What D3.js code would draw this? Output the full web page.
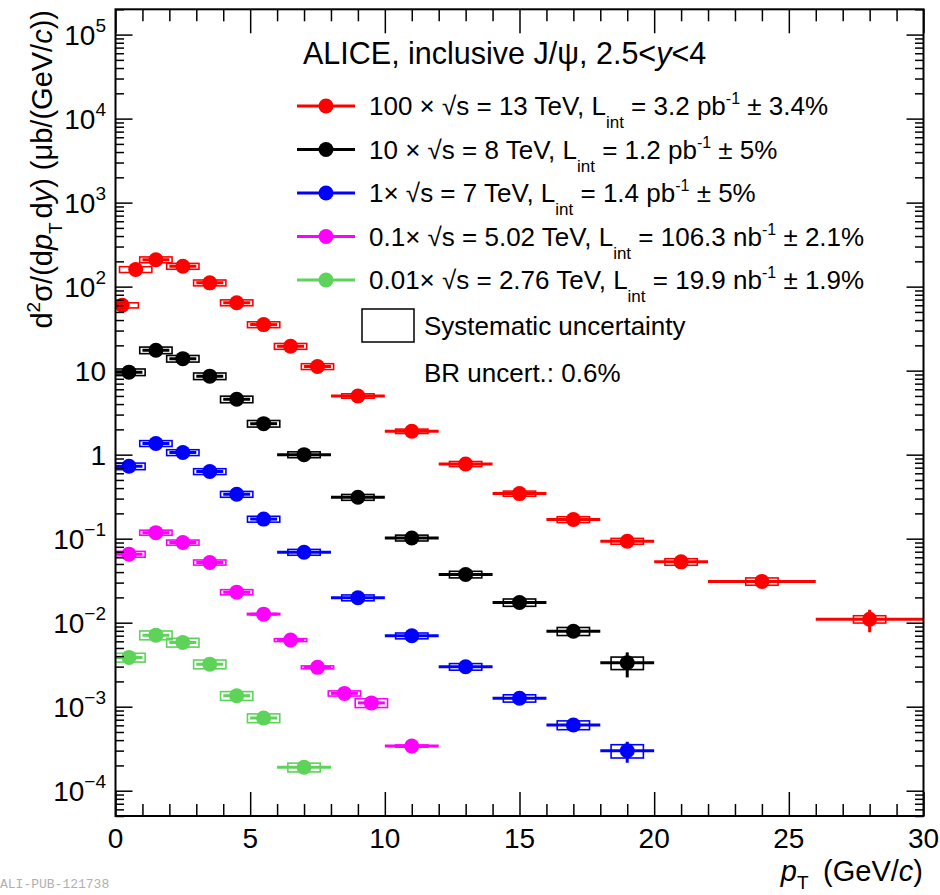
<!DOCTYPE html>
<html>
<head>
<meta charset="utf-8">
<script src="https://cdn.jsdelivr.net/npm/d3@7/dist/d3.min.js"></script>
<style>
  body { margin: 0; background: #fff; }
  svg { display: block; font-family: "Liberation Sans", Arial, Helvetica, sans-serif; }
</style>
</head>
<body>
<svg id="chart" width="940" height="895"></svg>
<script>
// Inclusive J/psi cross sections d2sigma/(dpT dy), 2.5<y<4, values as plotted (already scaled)
// pp at 13 TeV (x100)
const pt13   = [0.25, 0.75, 1.5, 2.5, 3.5, 4.5, 5.5, 6.5, 7.5, 9, 11, 13, 15, 17, 19, 21, 24, 28];
const hw13   = [0.25, 0.25, 0.5, 0.5, 0.5, 0.5, 0.5, 0.5, 0.5, 1, 1, 1, 1, 1, 1, 1, 2, 2];
const val13  = [60, 160, 209, 175, 111, 64.4, 35.3, 19.5, 11.2, 5.0, 1.90, 0.775, 0.344, 0.169, 0.0933, 0.053, 0.031, 0.011];
const stat13 = [0.03, 0.02, 0.02, 0.02, 0.02, 0.02, 0.02, 0.02, 0.03, 0.03, 0.04, 0.05, 0.06, 0.07, 0.09, 0.11, 0.12, 0.30];
const syst13 = [0.07, 0.08, 0.08, 0.08, 0.08, 0.08, 0.08, 0.08, 0.08, 0.06, 0.06, 0.07, 0.07, 0.08, 0.08, 0.09, 0.10, 0.10];

// pp at 8 TeV (x10)
const pt8    = [0.5, 1.5, 2.5, 3.5, 4.5, 5.5, 7, 9, 11, 13, 15, 17, 19];
const hw8    = [0.5, 0.5, 0.5, 0.5, 0.5, 0.5, 1, 1, 1, 1, 1, 1, 1];
const val8   = [9.6, 17.5, 13.9, 8.6, 4.56, 2.34, 1.0, 0.311, 0.102, 0.0375, 0.0174, 0.0079, 0.00333];
const stat8  = [0.03, 0.02, 0.02, 0.02, 0.03, 0.03, 0.03, 0.04, 0.06, 0.08, 0.10, 0.14, 0.33];
const syst8  = [0.09, 0.09, 0.09, 0.09, 0.09, 0.09, 0.08, 0.08, 0.08, 0.09, 0.10, 0.11, 0.17];

// pp at 7 TeV (x1)
const pt7    = [0.5, 1.5, 2.5, 3.5, 4.5, 5.5, 7, 9, 11, 13, 15, 17, 19];
const hw7    = [0.5, 0.5, 0.5, 0.5, 0.5, 0.5, 1, 1, 1, 1, 1, 1, 1];
const val7   = [0.728, 1.36, 1.06, 0.63, 0.338, 0.171, 0.069, 0.0198, 0.00698, 0.00299, 0.00126, 0.000605, 0.000299];
const stat7  = [0.03, 0.02, 0.02, 0.02, 0.03, 0.03, 0.03, 0.04, 0.06, 0.07, 0.09, 0.12, 0.28];
const syst7  = [0.09, 0.08, 0.08, 0.08, 0.08, 0.08, 0.08, 0.08, 0.08, 0.09, 0.10, 0.12, 0.18];

// pp at 5.02 TeV (x0.1)
const pt5    = [0.5, 1.5, 2.5, 3.5, 4.5, 5.5, 6.5, 7.5, 8.5, 9.5, 11];
const hw5    = [0.5, 0.5, 0.5, 0.5, 0.5, 0.5, 0.5, 0.5, 0.5, 0.5, 1];
const val5   = [0.0654, 0.118, 0.090, 0.0521, 0.0231, 0.01264, 0.00621, 0.00294, 0.00144, 0.00111, 0.00034];
const stat5  = [0.04, 0.03, 0.03, 0.04, 0.04, 0.05, 0.06, 0.07, 0.08, 0.09, 0.10];
const syst5  = [0.08, 0.07, 0.07, 0.07, 0.07, 0.02, 0.04, 0.04, 0.07, 0.12, 0.03];

// pp at 2.76 TeV (x0.01)
const pt276   = [0.5, 1.5, 2.5, 3.5, 4.5, 5.5, 7];
const hw276   = [0.5, 0.5, 0.5, 0.5, 0.5, 0.5, 1];
const val276  = [0.00386, 0.00711, 0.00582, 0.00321, 0.00135, 0.000733, 0.00019];
const stat276 = [0.05, 0.04, 0.04, 0.05, 0.06, 0.07, 0.10];
const syst276 = [0.12, 0.12, 0.12, 0.12, 0.12, 0.12, 0.12];

// Legend pieces
const scaleLabels = ["100 ×", "10 ×", "1×", "0.1×", "0.01×"];
const energies    = ["13", "8", "7", "5.02", "2.76"];
const lumiValues  = ["3.2 pb", "1.2 pb", "1.4 pb", "106.3 nb", "19.9 nb"];
const lumiUnc     = ["3.4%", "5%", "5%", "2.1%", "1.9%"];
const colors      = ["#ff0000", "#000000", "#0000ff", "#ff00ff", "#5ed35a"];

// Axis ticks
const xMajorTicks = [0, 5, 10, 15, 20, 25, 30];
const yDecades    = [-4, -3, -2, -1, 0, 1, 2, 3, 4, 5];

const series = [
  { pt: pt13, hw: hw13, v: val13, stat: stat13, syst: syst13 },
  { pt: pt8,  hw: hw8,  v: val8,  stat: stat8,  syst: syst8 },
  { pt: pt7,  hw: hw7,  v: val7,  stat: stat7,  syst: syst7 },
  { pt: pt5,  hw: hw5,  v: val5,  stat: stat5,  syst: syst5 },
  { pt: pt276, hw: hw276, v: val276, stat: stat276, syst: syst276 }
].map((s, i) => ({
  color: colors[i],
  points: s.pt.map((p, j) => ({ pt: p, hw: s.hw[j], v: s.v[j], stat: s.stat[j], syst: s.syst[j] }))
}));

const W = 940, H = 895;
const frame = { left: 115.5, right: 923.5, top: 9.3, bottom: 816 };
const boxHalf = 0.6;      // half width of systematic boxes in GeV/c
const markerR = 7.5;

const svg = d3.select("#chart");
svg.append("rect").attr("width", W).attr("height", H).attr("fill", "#fff");

const x = d3.scaleLinear().domain([0, 30]).range([frame.left, frame.right]);
const y = d3.scaleLog().domain([5e-5, 2e5]).range([frame.bottom, frame.top]);

// rich text helper: parts are strings or {t, sub|sup|it}
function rich(textSel, parts, size) {
  let offset = 0;
  parts.forEach(p => {
    const part = typeof p === "string" ? { t: p } : p;
    const ts = textSel.append("tspan").text(part.t);
    let target = 0, fs = size;
    if (part.sup) { target = -part.sup; fs = part.fs || Math.round(size * 0.66); }
    if (part.sub) { target = part.sub; fs = part.fs || Math.round(size * 0.66); }
    ts.attr("font-size", fs);
    if (part.it) ts.attr("font-style", "italic");
    if (target !== offset) { ts.attr("dy", target - offset); offset = target; }
  });
  return textSel;
}

// data
const plot = svg.append("g");
svg.append("clipPath").attr("id", "clip").append("rect")
  .attr("x", frame.left).attr("y", frame.top)
  .attr("width", frame.right - frame.left).attr("height", frame.bottom - frame.top);
plot.attr("clip-path", "url(#clip)");

series.forEach(s => {
  const g = plot.append("g");
  // systematic boxes
  g.selectAll("rect.syst").data(s.points).join("rect")
    .attr("class", "syst")
    .attr("x", d => x(d.pt - boxHalf))
    .attr("width", d => x(d.pt + boxHalf) - x(d.pt - boxHalf))
    .attr("y", d => y(d.v * (1 + d.syst)))
    .attr("height", d => y(d.v * (1 - d.syst)) - y(d.v * (1 + d.syst)))
    .attr("fill", "none").attr("stroke", s.color).attr("stroke-width", 1.6);
  // bin width bars
  g.selectAll("line.xerr").data(s.points).join("line")
    .attr("class", "xerr")
    .attr("x1", d => x(d.pt - d.hw)).attr("x2", d => x(d.pt + d.hw))
    .attr("y1", d => y(d.v)).attr("y2", d => y(d.v))
    .attr("stroke", s.color).attr("stroke-width", 3);
  // statistical bars
  g.selectAll("line.yerr").data(s.points).join("line")
    .attr("class", "yerr")
    .attr("x1", d => x(d.pt)).attr("x2", d => x(d.pt))
    .attr("y1", d => y(d.v * (1 + d.stat))).attr("y2", d => y(d.v * (1 - d.stat)))
    .attr("stroke", s.color).attr("stroke-width", 3);
  // markers
  g.selectAll("circle").data(s.points).join("circle")
    .attr("cx", d => x(d.pt)).attr("cy", d => y(d.v)).attr("r", markerR)
    .attr("fill", s.color);
});

// axes (ticks drawn inward on all four sides)
const xMinor = d3.range(0, 31).filter(v => v % 5 !== 0);
const yMajor = yDecades.map(e => Math.pow(10, e));
const yMinor = [];
for (let e = -5; e <= 5; e++) for (let k = 2; k <= 9; k++) {
  const v = k * Math.pow(10, e);
  if (v >= 5e-5 && v <= 2e5) yMinor.push(v);
}

function styleAxis(g) {
  g.select(".domain").remove();
  g.selectAll("line").attr("stroke", "#000").attr("stroke-width", 1.5);
  g.selectAll("text").remove();
}
const fmt = () => "";
svg.append("g").attr("transform", `translate(0,${frame.bottom})`)
  .call(d3.axisBottom(x).tickValues(xMajorTicks).tickSize(-24).tickFormat(fmt)).call(styleAxis);
svg.append("g").attr("transform", `translate(0,${frame.bottom})`)
  .call(d3.axisBottom(x).tickValues(xMinor).tickSize(-12).tickFormat(fmt)).call(styleAxis);
svg.append("g").attr("transform", `translate(0,${frame.top})`)
  .call(d3.axisTop(x).tickValues(xMajorTicks).tickSize(-24).tickFormat(fmt)).call(styleAxis);
svg.append("g").attr("transform", `translate(0,${frame.top})`)
  .call(d3.axisTop(x).tickValues(xMinor).tickSize(-12).tickFormat(fmt)).call(styleAxis);
svg.append("g").attr("transform", `translate(${frame.left},0)`)
  .call(d3.axisLeft(y).tickValues(yMajor).tickSize(-17).tickFormat(fmt)).call(styleAxis);
svg.append("g").attr("transform", `translate(${frame.left},0)`)
  .call(d3.axisLeft(y).tickValues(yMinor).tickSize(-8.5).tickFormat(fmt)).call(styleAxis);
svg.append("g").attr("transform", `translate(${frame.right},0)`)
  .call(d3.axisRight(y).tickValues(yMajor).tickSize(-17).tickFormat(fmt)).call(styleAxis);
svg.append("g").attr("transform", `translate(${frame.right},0)`)
  .call(d3.axisRight(y).tickValues(yMinor).tickSize(-8.5).tickFormat(fmt)).call(styleAxis);

svg.append("rect")
  .attr("x", frame.left).attr("y", frame.top)
  .attr("width", frame.right - frame.left).attr("height", frame.bottom - frame.top)
  .attr("fill", "none").attr("stroke", "#000").attr("stroke-width", 2);

// tick labels
const tickFs = 28;
svg.append("g").selectAll("text").data(xMajorTicks).join("text")
  .attr("x", d => x(d)).attr("y", 848).attr("text-anchor", "middle")
  .attr("font-size", tickFs).text(d => d);

yDecades.forEach(e => {
  const t = svg.append("text").attr("x", 106).attr("y", y(Math.pow(10, e)) + 10)
    .attr("text-anchor", "end").attr("font-size", tickFs);
  if (e === 0) t.text("1");
  else if (e === 1) t.text("10");
  else rich(t, ["10", { t: e < 0 ? "\u2212" + (-e) : String(e), sup: 13, fs: 19 }], tickFs);
});

// axis titles
rich(svg.append("text").attr("x", 923).attr("y", 881).attr("text-anchor", "end").attr("font-size", 29),
  [{ t: "p", it: true }, { t: "T", sub: 8, fs: 19 }, "\u2002(GeV/", { t: "c", it: true }, ")"], 29);

rich(svg.append("text").attr("transform", "translate(52,10) rotate(-90)").attr("text-anchor", "end").attr("font-size", 29),
  ["d", { t: "2", sup: 12, fs: 19 }, "\u03c3/(d", { t: "p", it: true }, { t: "T\u2009", sub: 10, fs: 19 }, "d", { t: "y", it: true },
   ") (\u03bcb/(GeV/", { t: "c", it: true }, "))"], 29);

// legend
rich(svg.append("text").attr("x", 303).attr("y", 64).attr("font-size", 30.5),
  ["ALICE, inclusive J/\u03c8, 2.5<", { t: "y", it: true }, "<4"], 30.5);

const legY = [106, 149.5, 193, 236.5, 280];
const legFs = 26;
colors.forEach((c, i) => {
  const g = svg.append("g");
  g.append("line").attr("x1", 297).attr("x2", 355).attr("y1", legY[i]).attr("y2", legY[i])
    .attr("stroke", c).attr("stroke-width", 3);
  g.append("circle").attr("cx", 326).attr("cy", legY[i]).attr("r", markerR).attr("fill", c);
  rich(g.append("text").attr("x", 369).attr("y", legY[i] + 9).attr("font-size", legFs),
    [scaleLabels[i] + " \u221as = " + energies[i] + " TeV, L", { t: "int", sub: 13, fs: 17 },
     " = " + lumiValues[i], { t: "-1", sup: 11, fs: 16 }, " \u00b1 " + lumiUnc[i]], legFs);
});

svg.append("rect").attr("x", 362).attr("y", 309).attr("width", 52).attr("height", 33)
  .attr("fill", "none").attr("stroke", "#000").attr("stroke-width", 1.5);
svg.append("text").attr("x", 424).attr("y", 335).attr("font-size", legFs).text("Systematic uncertainty");
svg.append("text").attr("x", 424).attr("y", 382).attr("font-size", legFs).text("BR uncert.: 0.6%");

// figure id
svg.append("text").attr("x", 0).attr("y", 888)
  .attr("font-family", "'Liberation Mono', 'DejaVu Sans Mono', monospace")
  .attr("font-size", 13).attr("fill", "#b0b0b0").text("ALI-PUB-121738");
</script>
</body>
</html>
